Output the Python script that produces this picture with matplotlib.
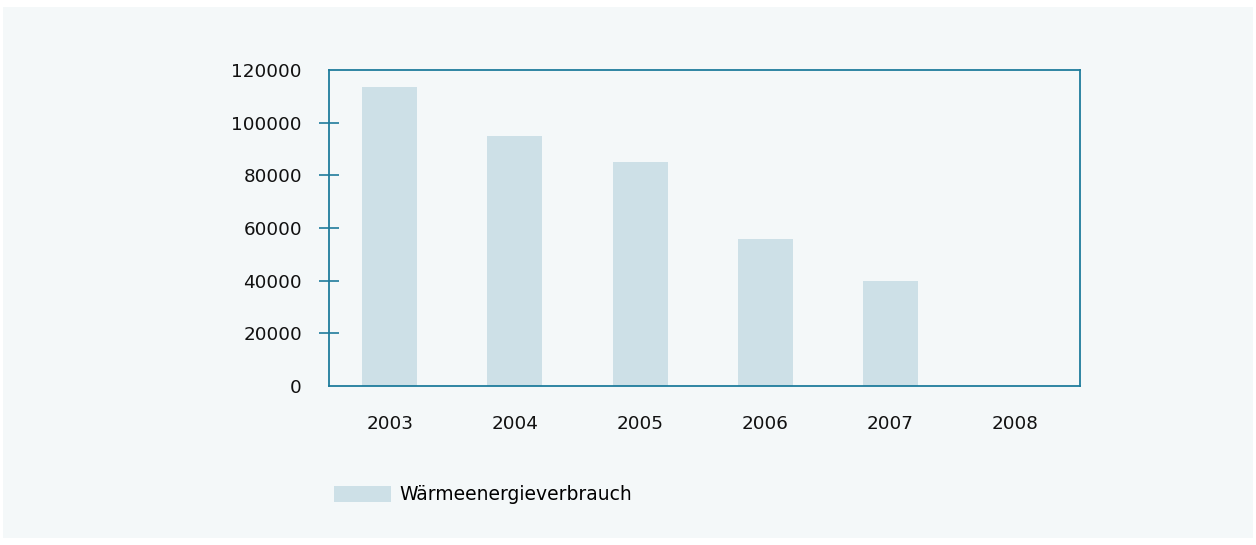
import matplotlib.pyplot as plt
from matplotlib.patches import Rectangle, Patch

years = ["2003", "2004", "2005", "2006", "2007", "2008"]
waerme = [113500, 95000, 85000, 56000, 40000, 0]
y_ticks = [0, 20000, 40000, 60000, 80000, 100000, 120000]

bg = "#f4f8f9"
bar_col = "#cde0e7"
axis_col = "#1f7c9c"

plt.rcParams['font.family'] = ['DejaVu Sans']

fig = plt.figure(figsize=(12.56, 5.45), dpi=100)
fig.patch.set_facecolor("white")
# light panel behind everything
fig.patches.append(Rectangle((3 / 1256, 7 / 545), 1250 / 1256, 531 / 545,
                             transform=fig.transFigure, facecolor=bg,
                             edgecolor="none", zorder=-5))

ax = fig.add_axes([329 / 1256, 1 - 386 / 545, 751 / 1256, 316 / 545])
ax.set_facecolor(bg)
ax.set_zorder(2)

x = list(range(len(years)))
ax.bar(x, waerme, width=0.44, color=bar_col, zorder=2)

ax.set_xlim(-0.485, 5.515)
ax.set_ylim(0, 120000)
ax.set_yticks(y_ticks)
ax.set_yticklabels([str(v) for v in y_ticks])
ax.set_xticks(x)
ax.set_xticklabels(years)

for s in ax.spines.values():
    s.set_color(axis_col)
    s.set_linewidth(1.3)
    s.set_zorder(3)

ax.tick_params(axis="y", direction="inout", length=15, width=1.2,
               color=axis_col, labelsize=13.2, pad=12, labelcolor="#111111")
ax.tick_params(axis="x", length=0, labelsize=13.2, pad=21, labelcolor="#111111")

# no tick marks on the ends (they sit on the frame)
yt = ax.yaxis.get_major_ticks()
for t in (yt[0], yt[-1]):
    t.tick1line.set_visible(False)

leg = fig.legend(handles=[Patch(facecolor=bar_col, edgecolor="none")],
                 labels=["Wärmeenergieverbrauch"],
                 loc="center left", bbox_to_anchor=(317 / 1256, 1 - 495 / 545),
                 frameon=False, fontsize=13.5, handlelength=3.05, handleheight=1.0,
                 handletextpad=0.45)

fig.savefig("out.png", dpi=100, facecolor=fig.get_facecolor())
